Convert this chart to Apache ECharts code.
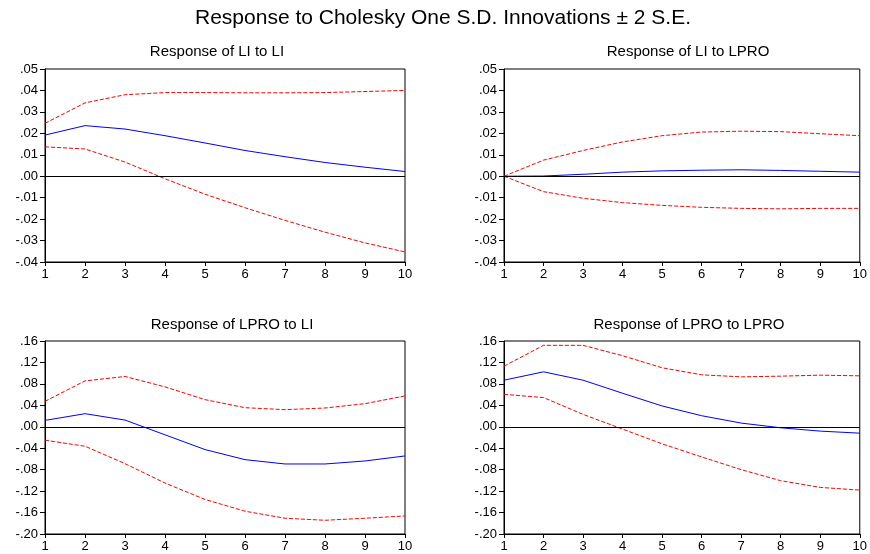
<!DOCTYPE html>
<html>
<head>
<meta charset="utf-8">
<script src="https://cdn.jsdelivr.net/npm/echarts@6/dist/echarts.min.js"></script>
<style>
  html, body { margin: 0; padding: 0; background: #fff; }
  #chart { width: 870px; height: 554px; }
</style>
</head>
<body>
<div id="chart"></div>
<script>
// periods 1..10
const periods = [1, 2, 3, 4, 5, 6, 7, 8, 9, 10]

// Response of LI to LI
const liLiResp = [0.0192, 0.0236, 0.022, 0.0189, 0.0155, 0.012, 0.0091, 0.0064, 0.0042, 0.0022]
const liLiUpper = [0.0247, 0.0342, 0.038, 0.039, 0.039, 0.0389, 0.0389, 0.039, 0.0395, 0.04]
const liLiLower = [0.0137, 0.0127, 0.0066, -0.0012, -0.0084, -0.0147, -0.0206, -0.0261, -0.0311, -0.0353]

// Response of LI to LPRO
const liLproResp = [0, 0.0001, 0.0009, 0.0019, 0.0025, 0.0028, 0.003, 0.0027, 0.0023, 0.0019]
const liLproUpper = [0, 0.0075, 0.012, 0.016, 0.0189, 0.0206, 0.021, 0.0208, 0.0198, 0.0189]
const liLproLower = [0, -0.0072, -0.0103, -0.0123, -0.0136, -0.0145, -0.015, -0.0152, -0.015, -0.015]

// Response of LPRO to LI
const lproLiResp = [0.0119, 0.0244, 0.0125, -0.015, -0.0425, -0.0613, -0.0694, -0.0694, -0.0638, -0.0544]
const lproLiUpper = [0.0475, 0.0856, 0.0938, 0.0744, 0.0506, 0.0356, 0.0319, 0.035, 0.0431, 0.0575]
const lproLiLower = [-0.025, -0.0363, -0.0688, -0.105, -0.1356, -0.1575, -0.1706, -0.1744, -0.1706, -0.1663]

// Response of LPRO to LPRO
const lproLproResp = [0.0869, 0.1025, 0.0869, 0.0625, 0.0388, 0.0206, 0.0069, -0.0019, -0.0081, -0.0119]
const lproLproUpper = [0.1131, 0.1519, 0.1519, 0.1325, 0.11, 0.0969, 0.0931, 0.0944, 0.0963, 0.095]
const lproLproLower = [0.0606, 0.0544, 0.0231, -0.0044, -0.0319, -0.0563, -0.08, -0.1006, -0.1131, -0.1181]

const panels = [
  { title: 'Response of LI to LI', resp: liLiResp, upper: liLiUpper, lower: liLiLower, min: -0.04, max: 0.05, step: 0.01 },
  { title: 'Response of LI to LPRO', resp: liLproResp, upper: liLproUpper, lower: liLproLower, min: -0.04, max: 0.05, step: 0.01 },
  { title: 'Response of LPRO to LI', resp: lproLiResp, upper: lproLiUpper, lower: lproLiLower, min: -0.2, max: 0.16, step: 0.04 },
  { title: 'Response of LPRO to LPRO', resp: lproLproResp, upper: lproLproUpper, lower: lproLproLower, min: -0.2, max: 0.16, step: 0.04 },
]

const grids = [
  { left: 45, top: 69, width: 360, height: 193 },
  { left: 504, top: 69, width: 359, height: 193 },
  { left: 45, top: 341, width: 360, height: 193 },
  { left: 504, top: 341, width: 359, height: 193 },
]
const titlePos = [
  { left: 212, top: 39 },
  { left: 683, top: 39 },
  { left: 227, top: 312 },
  { left: 684, top: 312 },
]

const font = 'Liberation Sans, Arial, sans-serif'
const pair = (arr) => arr.map((v, i) => [periods[i], v])
const fmt = (v) => v.toFixed(2).replace('0.', '.')

const chart = echarts.init(document.getElementById('chart'))

const option = {
  backgroundColor: '#fff',
  animation: false,
  title: [
    {
      text: 'Response to Cholesky One S.D. Innovations \u00b1 2 S.E.',
      left: 438, top: 3, textAlign: 'center',
      textStyle: { fontFamily: font, fontSize: 21, fontWeight: 'normal', color: '#000' },
    },
  ].concat(panels.map((p, i) => ({
    text: p.title,
    left: titlePos[i].left, top: titlePos[i].top, textAlign: 'center',
    textStyle: { fontFamily: font, fontSize: 15, fontWeight: 'normal', color: '#000' },
  }))),
  grid: grids.map((g) => Object.assign({ show: true, borderColor: '#000', borderWidth: 1, backgroundColor: 'transparent' }, g)),
  xAxis: panels.map((p, i) => ({
    type: 'value', gridIndex: i, min: 1, max: 10, interval: 1,
    axisLine: { onZero: false, lineStyle: { color: '#000', width: 1 } },
    axisTick: { show: true, length: 4, lineStyle: { color: '#000' } },
    axisLabel: { color: '#000', fontFamily: font, fontSize: 13, margin: 6 },
    splitLine: { show: false },
  })),
  yAxis: panels.map((p, i) => ({
    type: 'value', gridIndex: i, min: p.min, max: p.max, interval: p.step,
    axisLine: { show: true, onZero: false, lineStyle: { color: '#000', width: 1 } },
    axisTick: { show: true, length: 5, lineStyle: { color: '#000' } },
    axisLabel: { color: '#000', fontFamily: font, fontSize: 13, margin: 7, formatter: fmt },
    splitLine: { show: false },
  })),
  series: [],
}

panels.forEach((p, i) => {
  option.series.push({
    type: 'line', xAxisIndex: i, yAxisIndex: i, data: pair(p.resp),
    symbol: 'none', lineStyle: { color: '#0000ff', width: 1 },
    markLine: {
      silent: true, symbol: 'none', label: { show: false },
      lineStyle: { color: '#000', width: 1, type: 'solid' },
      data: [{ yAxis: 0 }],
    },
  })
  option.series.push({
    type: 'line', xAxisIndex: i, yAxisIndex: i, data: pair(p.upper),
    symbol: 'none', lineStyle: { color: '#ff0000', width: 1, type: [4, 2] },
  })
  option.series.push({
    type: 'line', xAxisIndex: i, yAxisIndex: i, data: pair(p.lower),
    symbol: 'none', lineStyle: { color: '#ff0000', width: 1, type: [4, 2] },
  })
})

chart.setOption(option)
</script>
</body>
</html>
